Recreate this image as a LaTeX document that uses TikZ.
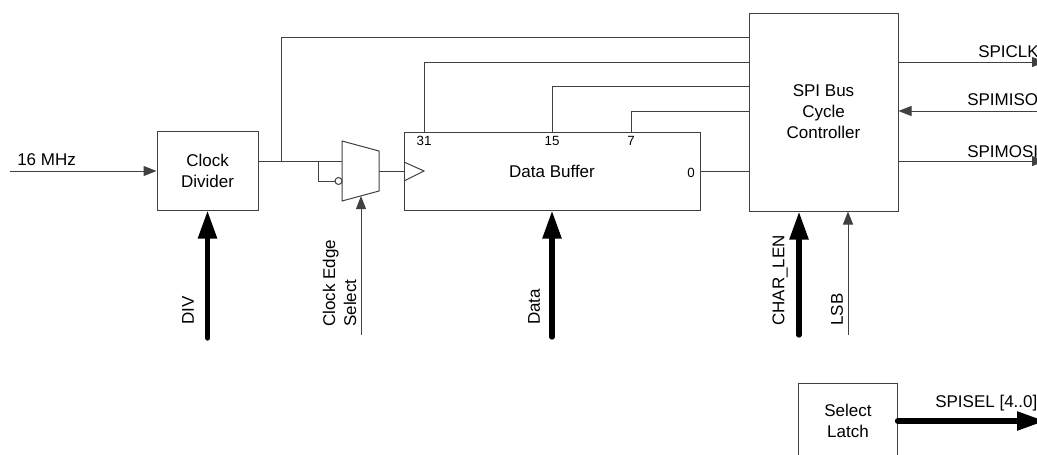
\documentclass[tikz,border=0pt]{standalone}
\usepackage{fontspec}
\setmainfont{Liberation Sans}
\usetikzlibrary{arrows.meta}
\begin{document}
\begin{tikzpicture}[x=0.75pt,y=-0.75pt,
  wire/.style={draw=black!75,line width=0.75pt},
  box/.style={draw=black!75,line width=0.75pt,align=center,inner sep=0pt},
  lbl/.style={font=\fontsize{12.75pt}{15.75pt}\selectfont,inner sep=0pt},
  sml/.style={font=\fontsize{10pt}{12pt}\selectfont,inner sep=0pt},
  thinarrow/.style={wire,-{Triangle[length=9.75pt,width=7.5pt]}},
  thickarrow/.style={draw=black,line width=4pt,line cap=round,-{Triangle[length=21pt,width=13.5pt]}},
]
\useasboundingbox (0,0) rectangle (1037,454);

% blocks
\node[box,lbl,minimum width=75.75pt,minimum height=59.25pt] (cd) at (207.5,170.5) {Clock\\Divider};
\node[box,lbl,minimum width=222pt,minimum height=58.5pt] (db) at (552,171) {Data Buffer};
\node[box,lbl,minimum width=111.75pt,minimum height=148.5pt] (spi) at (823.5,112) {SPI Bus\\Cycle\\Controller};
\node[box,minimum width=74.25pt,minimum height=65.25pt] (sl) at (847.5,426.5) {};
\node[lbl,align=center] (sltxt) at (848,420.5) {Select\\Latch};

% multiplexer
\coordinate (m1) at (342,141);
\coordinate (m2) at (379,151);
\coordinate (m3) at (379,191);
\coordinate (m4) at (342,201);
\draw[wire] (m1) -- (m2) -- (m3) -- (m4) -- cycle;
\node[circle,draw=black!75,line width=0.75pt,minimum size=5.25pt,inner sep=0pt] (bub) at (338.5,181) {};

% clock triangle on data buffer
\coordinate (ck1) at (404,162);
\coordinate (ck2) at (424,171);
\coordinate (ck3) at (404,181);
\draw[wire] (ck1) -- (ck2) -- (ck3);

% clock wiring
\coordinate (j1) at (281,161);
\coordinate (j2) at (318,161);
\coordinate (t0) at (281,37);
\draw[wire] (cd.east |- j1) -- (m1 |- j1);
\draw[wire] (j1) -- (t0) -- (spi.west |- t0);
\draw[wire] (j2) |- (bub.west);
\coordinate (mo) at (379,171);
\draw[wire] (mo) -- (db.west |- mo);

% taps
\coordinate (tap31) at (424,62);
\coordinate (tap15) at (552,86);
\coordinate (tap7) at (631,111);
\draw[wire] (db.north -| tap31) -- (tap31) -- (spi.west |- tap31);
\draw[wire] (db.north -| tap15) -- (tap15) -- (spi.west |- tap15);
\draw[wire] (db.north -| tap7) -- (tap7) -- (spi.west |- tap7);
\draw[wire] (db.east) -- (spi.west |- db.east);
\node[sml] (l31) at (424,141) {31};
\node[sml] (l15) at (552,141) {15};
\node[sml] (l7) at (631,141) {7};
\node[sml] (l0) at (691,173) {0};

% input clock
\coordinate (in16) at (10,171);
\draw[thinarrow] (in16) -- (cd.west |- in16);
\node[lbl,anchor=west] (t16) at (17,160) {16 MHz};

% SPI outputs
\coordinate (clkout) at (1045,62);
\coordinate (misoin) at (1045,111);
\coordinate (mosiout) at (1045,161);
\draw[thinarrow] (spi.east |- clkout) -- (clkout);
\draw[thinarrow] (misoin) -- (spi.east |- misoin);
\draw[thinarrow] (spi.east |- mosiout) -- (mosiout);
\node[lbl,anchor=west] (tclk) at (978,52) {SPICLK};
\node[lbl,anchor=west] (tmiso) at (967,100) {SPIMISO};
\node[lbl,anchor=west] (tmosi) at (967,152) {SPIMOSI};

% bottom inputs
\coordinate (divin) at (207.5,338);
\draw[thickarrow] (divin) -- (cd.south);
\node[lbl,rotate=90,anchor=west] (tdiv) at (188,325) {DIV};

\coordinate (cesin) at (361,335);
\coordinate (muxb) at (361,196);
\draw[thinarrow] (cesin) -- (muxb);
\node[lbl,rotate=90,anchor=west,align=left] (tces) at (339.5,327) {Clock Edge\\Select};

\coordinate (datain) at (552,337);
\draw[thickarrow] (datain) -- (db.south);
\node[lbl,rotate=90,anchor=west] (tdata) at (534,325) {Data};

\coordinate (charin) at (799,335);
\draw[thickarrow] (charin) -- (spi.south -| charin);
\node[lbl,rotate=90,anchor=west] (tchar) at (780,326) {CHAR\_LEN};

\coordinate (lsbin) at (848,335);
\draw[thinarrow] (lsbin) -- (spi.south -| lsbin);
\node[lbl,rotate=90,anchor=west] (tlsb) at (837,326) {LSB};

% select latch output
\coordinate (selout) at (1045,421);
\draw[thickarrow] (sl.east |- selout) -- (selout);
\node[lbl,anchor=west] (tsel) at (935,403) {SPISEL [4..0]};
\end{tikzpicture}
\end{document}
